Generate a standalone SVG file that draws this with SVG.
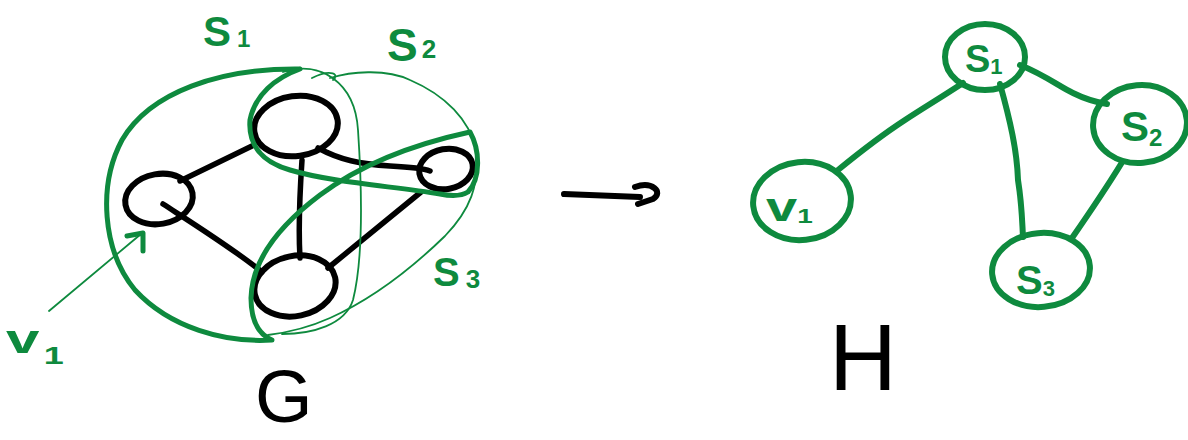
<svg xmlns="http://www.w3.org/2000/svg" width="1188" height="440" viewBox="0 0 1188 440">
<style>
.bk{fill:none;stroke:#000;stroke-width:6;stroke-linecap:round;stroke-linejoin:round}
.be{fill:none;stroke:#000;stroke-width:5.5;stroke-linecap:round}
.gk{fill:none;stroke:#0e8a3e;stroke-width:5;stroke-linecap:round;stroke-linejoin:round}
.gt{fill:none;stroke:#0e8a3e;stroke-width:1.8;stroke-linecap:round;stroke-linejoin:round}
.gn{fill:none;stroke:#0e8a3e;stroke-width:6;stroke-linecap:round}
.lbl{font-family:"Liberation Sans",Arial,sans-serif;fill:#0e8a3e;font-weight:bold}
.big{font-family:"Liberation Sans",Arial,sans-serif;fill:#000}
</style>
<rect width="1188" height="440" fill="#fff"/>

<!-- Graph G -->
<g id="G-edges">
<path class="be" d="M180,181 L252,146"/>
<path class="be" d="M163,204 C200,228 235,250 262,272"/>
<path class="be" d="M302,160 C300,190 298,225 300,258"/>
<path class="be" d="M318,148 C340,160 360,164 390,166 C410,167 425,169 430,171"/>
<path class="be" d="M421,192 L328,268"/>
</g>
<g id="G-node-a"><ellipse class="bk" cx="159" cy="199" rx="34" ry="25" transform="rotate(-10 159 199)"/></g>
<g id="G-node-b"><ellipse class="bk" cx="296" cy="126" rx="42" ry="30" transform="rotate(-8 296 126)"/></g>
<g id="G-node-c"><ellipse class="bk" cx="446" cy="169" rx="27" ry="20" transform="rotate(-10 446 169)"/></g>
<g id="G-node-d"><ellipse class="bk" cx="295" cy="286" rx="41" ry="30" transform="rotate(-12 295 286)"/></g>

<!-- Sets -->
<g id="set-s1">
<path class="gk" d="M300,69 C220,68 150,92 122,140 C98,185 102,250 135,290 C170,328 225,343 272,340 C258,334 251,320 251,298 C252,260 280,225 320,195 C360,165 410,145 470,132 C480,150 481,178 468,192 C460,197 450,196 440,194 C390,186 330,182 290,170 C262,162 248,145 250,120 C255,95 275,78 300,69"/>
</g>
<g id="set-s2">
<path class="gt" d="M283,72 C320,60 355,82 358,130 C362,190 363,260 353,300 C345,325 312,334 282,334"/>
</g>
<g id="set-s3">
<path class="gt" d="M312,78 C332,68 340,75 333,80 M330,78 C350,72 385,68 410,80 C445,95 470,120 476,150 C480,185 470,210 445,236 C410,270 370,300 330,318 C310,327 292,332 268,335"/>
</g>

<!-- v1 pointer -->
<g id="v1-pointer">
<path class="gt" d="M49,311 L141,234"/>
<path class="gk" stroke-width="3.5" d="M127,236 L143,233 L143,251"/>
</g>

<!-- Labels G -->
<g id="labels-G">
<text class="lbl" x="203" y="46" font-size="42">S<tspan font-size="24" dx="6" dy="1">1</tspan></text>
<text class="lbl" x="387" y="61" font-size="46">S<tspan font-size="26" dx="4" dy="-3">2</tspan></text>
<text class="lbl" x="433" y="286" font-size="40">S<tspan font-size="26" dx="6" dy="2">3</tspan></text>
<text class="lbl" transform="translate(6,353) scale(1.5,1)" x="0" y="0" font-size="40" font-weight="normal">v<tspan font-size="24" dx="3" dy="11">1</tspan></text>
<text class="big" x="255" y="422" font-size="74">G</text>
</g>

<!-- Middle arrow -->
<g id="map-arrow">
<path class="bk" stroke-width="7" d="M564,194 L640,197 M635,187 C652,181 664,192 653,199 L638,204"/>
</g>

<!-- Graph H -->
<g id="H-edges">
<path class="gn" d="M963,83 C940,98 925,107 905,120 C885,133 860,152 838,170"/>
<path class="gn" d="M1020,65 C1045,75 1060,87 1073,93 C1085,99 1095,102 1107,104"/>
<path class="gn" d="M1000,84 C1010,120 1017,150 1018,180 C1022,205 1022,220 1023,237"/>
<path class="gn" d="M1121,164 C1105,190 1090,212 1072,238"/>
</g>
<g id="H-node-s1">
<ellipse class="gn" cx="985" cy="57" rx="40" ry="33"/>
<text class="lbl" x="965" y="72" font-size="38">S<tspan font-size="22" dy="2">1</tspan></text>
</g>
<g id="H-node-s2">
<ellipse class="gn" cx="1140" cy="124" rx="47" ry="39" transform="rotate(-5 1140 124)"/>
<text class="lbl" x="1121" y="141" font-size="42">S<tspan font-size="24" dy="5">2</tspan></text>
</g>
<g id="H-node-v1">
<ellipse class="gn" cx="802" cy="201" rx="49" ry="39" transform="rotate(-6 802 201)"/>
<text class="lbl" transform="translate(766,221) scale(1.4,1)" x="0" y="0" font-size="40">v<tspan font-size="20" dy="2">1</tspan></text>
</g>
<g id="H-node-s3">
<ellipse class="gn" cx="1041" cy="270" rx="49" ry="37" transform="rotate(-5 1041 270)"/>
<text class="lbl" x="1016" y="294" font-size="40">S<tspan font-size="22" dy="2">3</tspan></text>
</g>
<text class="big" x="829" y="390" font-size="94">H</text>
</svg>
